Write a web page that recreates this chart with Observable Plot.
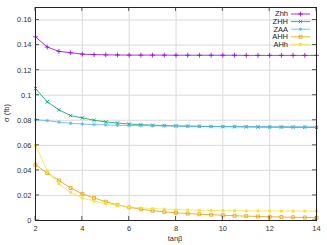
<!DOCTYPE html>
<html><head><meta charset="utf-8">
<script src="https://cdn.jsdelivr.net/npm/d3@7"></script>
<script src="https://cdn.jsdelivr.net/npm/@observablehq/plot@0.6"></script>
<style>
html,body{margin:0;padding:0;background:#fff;}
svg{font-family:"Liberation Sans",Arial,sans-serif;}
</style>
</head><body>
<div id="chart"></div>
<script>
const tanb = [2,2.5,3,3.5,4,4.5,5,5.5,6,6.5,7,7.5,8,8.5,9,9.5,10,10.5,11,11.5,12,12.5,13,13.5,14];
const Zhh = [0.1466,0.1384,0.1350,0.1339,0.1328,0.1324,0.1322,0.1321,0.1320,0.1320,0.1320,0.1320,0.1319,0.1319,0.1319,0.1319,0.1319,0.1319,0.1318,0.1318,0.1318,0.1318,0.1318,0.1318,0.1318];
const ZHH = [0.1053,0.0947,0.0883,0.0837,0.0819,0.0800,0.0787,0.0778,0.0770,0.0765,0.0761,0.0758,0.0755,0.0753,0.0751,0.0750,0.0749,0.0748,0.0747,0.0746,0.0745,0.0745,0.0744,0.0744,0.0743];
const ZAA = [0.0805,0.0797,0.0785,0.0776,0.0770,0.0766,0.0763,0.0760,0.0758,0.0757,0.0756,0.0755,0.0754,0.0753,0.0752,0.0751,0.0750,0.0750,0.0749,0.0749,0.0748,0.0748,0.0748,0.0747,0.0747];
const AHH = [0.0445,0.0380,0.0320,0.0259,0.0213,0.0180,0.0150,0.0125,0.0105,0.0090,0.0078,0.0069,0.0061,0.0055,0.0050,0.0046,0.0042,0.0038,0.0035,0.0032,0.0030,0.0028,0.0026,0.0024,0.0022];
const AHh = [0.0600,0.0397,0.0293,0.0224,0.0180,0.0155,0.0135,0.0122,0.0108,0.0100,0.0095,0.0091,0.0087,0.0084,0.0082,0.0080,0.0079,0.0078,0.0077,0.0076,0.0076,0.0075,0.0075,0.0075,0.0075];
const seriesNames = ["Zhh","ZHH","ZAA","AHH","AHh"];
const seriesValues = [Zhh, ZHH, ZAA, AHH, AHh];
const colors = ["#9400d3","#009e73","#56b4e9","#e69f00","#f0e442"];
const symbols = ["plus","times","asterisk","square","square"];
const filled = [false,false,false,false,true];
const xTicks = [2,4,6,8,10,12,14];
const yTicks = [0,0.02,0.04,0.06,0.08,0.1,0.12,0.14,0.16];
const xLabel = "tanβ";
const yLabel = "σ (fb)";

const rows = [];
seriesNames.forEach((s, k) => tanb.forEach((t, i) => rows.push({series: s, x: t, y: seriesValues[k][i]})));

const marks = [
  Plot.gridX(xTicks, {stroke: "#dadada", strokeOpacity: 1}),
  Plot.gridY(yTicks, {stroke: "#dadada", strokeOpacity: 1}),
  Plot.axisX(xTicks, {tickSize: 0, tickPadding: 5, fontSize: 7.5, fill: "#333", label: null}),
  Plot.axisY(yTicks, {tickSize: 0, tickPadding: 4, fontSize: 7.5, fill: "#333", tickFormat: d => String(d), label: null}),
];
seriesNames.forEach((s, k) => {
  const data = rows.filter(r => r.series === s);
  marks.push(Plot.line(data, {x: "x", y: "y", stroke: colors[k], strokeWidth: 0.8}));
  marks.push(Plot.dot(data, {x: "x", y: "y", symbol: symbols[k], r: filled[k] ? 1.6 : 1.7,
    stroke: filled[k] ? "none" : colors[k], fill: filled[k] ? colors[k] : "none", strokeWidth: 0.8}));
});
marks.push(Plot.frame({stroke: "#222", strokeWidth: 1}));

const chart = Plot.plot({
  width: 327, height: 245,
  marginLeft: 35, marginRight: 11, marginTop: 7, marginBottom: 25,
  style: {fontFamily: "Liberation Sans, Arial, sans-serif", fontSize: "7.5px", color: "#333", background: "#fff"},
  x: {domain: [2, 14]},
  y: {domain: [0, 0.17]},
  marks
});
document.getElementById("chart").appendChild(chart);

const svg = d3.select(chart);

// axis titles
svg.append("text").attr("x", 175).attr("y", 239).attr("dy", "0.32em").attr("text-anchor", "middle")
  .attr("fill", "#333").attr("font-size", 7.5).text(xLabel);
svg.append("text").attr("transform", "translate(7,113) rotate(-90)").attr("dy", "0.32em").attr("text-anchor", "middle")
  .attr("fill", "#333").attr("font-size", 7.5).text(yLabel);

// inward ticks on all sides (mirrored)
const yS = chart.scale("y"), xS = chart.scale("x");
const tg = svg.append("g").attr("stroke", "#333").attr("stroke-width", 0.8);
yTicks.forEach(v => {
  const py = yS.apply(v);
  tg.append("line").attr("x1", 35).attr("x2", 39).attr("y1", py).attr("y2", py);
  tg.append("line").attr("x1", 312).attr("x2", 316).attr("y1", py).attr("y2", py);
});
xTicks.forEach(v => {
  const px = xS.apply(v);
  tg.append("line").attr("x1", px).attr("x2", px).attr("y1", 220).attr("y2", 216);
  tg.append("line").attr("x1", px).attr("x2", px).attr("y1", 7).attr("y2", 11);
});

// legend (top right, inside frame)
const lg = svg.append("g").attr("font-size", 7.5).attr("fill", "#222");
seriesNames.forEach((s, k) => {
  const yy = 14 + k * 7.6;
  lg.append("text").attr("x", 288).attr("y", yy).attr("dy", "0.32em").attr("text-anchor", "end").text(s);
  lg.append("line").attr("x1", 291).attr("x2", 310).attr("y1", yy).attr("y2", yy)
    .attr("stroke", colors[k]).attr("stroke-width", 0.8);
  const sym = d3.symbol().type({plus: d3.symbolPlus, times: d3.symbolTimes, asterisk: d3.symbolAsterisk, square: d3.symbolSquare}[symbols[k]]).size(9);
  lg.append("path").attr("d", sym()).attr("transform", `translate(300.5,${yy})`)
    .attr("stroke", filled[k] ? "none" : colors[k]).attr("fill", filled[k] ? colors[k] : "none").attr("stroke-width", 0.8);
});
</script>
</body></html>
